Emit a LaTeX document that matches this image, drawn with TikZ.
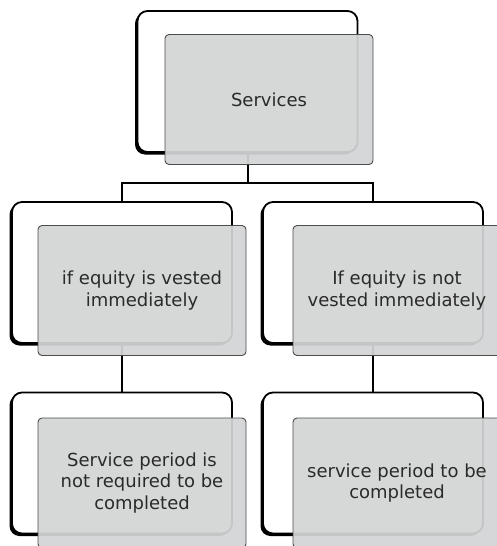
\documentclass[tikz,border=0pt]{standalone}
\usepackage{fontspec}
\setmainfont{DejaVu Sans}
\usetikzlibrary{shadows}
\definecolor{boxgray}{HTML}{D3D4D5}
\definecolor{txt}{HTML}{2A2A2A}
\begin{document}
\begin{tikzpicture}[x=1pt,y=-1pt,
  backbox/.style={draw=black, line width=1.8pt, fill=white, rounded corners=10pt,
    minimum width=220pt, minimum height=141pt, inner sep=0pt,
    general shadow={fill=black, shadow xshift=-2.5pt, shadow yshift=-2.5pt}},
  frontbox/.style={draw=black!70, line width=0.9pt, fill=boxgray, fill opacity=0.93,
    text opacity=1, rounded corners=4pt, minimum width=208pt, minimum height=130pt,
    inner sep=0pt, align=center, text=txt, font=\fontsize{18}{21.6}\selectfont},
  anchorbox/.style={minimum width=220pt, minimum height=141pt, inner sep=0pt},
  conn/.style={draw=black, line width=2pt}]
\useasboundingbox (0,0) rectangle (496,546);
% positions of the back boxes
\node[anchorbox] (T) at (247.5,81.5) {};
\node[anchorbox] (L1) at (122,272.5) {};
\node[anchorbox] (R1) at (373,272.5) {};
\node[anchorbox] (L2) at (122,463) {};
\node[anchorbox] (R2) at (373,463) {};
% connectors (behind boxes)
\coordinate (j) at (247.5,183);
\draw[conn] (T.center) -- (j);
\draw[conn] (L1.center) |- (j) -| (R1.center);
\draw[conn] (L1.center) -- (L2.center);
\draw[conn] (R1.center) -- (R2.center);
% back boxes
\node[backbox] (Tb) at (T) {};
\node[backbox] (L1b) at (L1) {};
\node[backbox] (R1b) at (R1) {};
\node[backbox] (L2b) at (L2) {};
\node[backbox] (R2b) at (R2) {};
% front boxes
\node[frontbox] (Tf) at (269,99.5) {Services};
\node[frontbox] (L1f) at (142,290.5) {if equity is vested\\immediately};
\node[frontbox] (R1f) at (397,290.5) {If equity is not\\vested immediately};
\node[frontbox] (L2f) at (142,483) {Service period is\\not required to be\\completed};
\node[frontbox] (R2f) at (397,483) {service period to be\\completed};
\end{tikzpicture}
\end{document}
